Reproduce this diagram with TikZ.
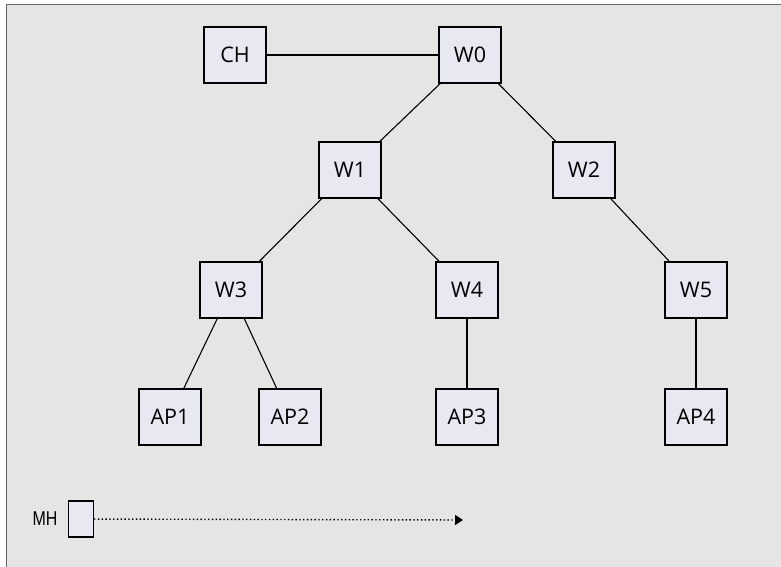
\documentclass[tikz,border=0pt]{standalone}
\usepackage{fontspec}
\setmainfont{Open Sans}
\newfontfamily\mhfont{Liberation Sans}
\usetikzlibrary{positioning,arrows.meta}
\definecolor{paneGray}{HTML}{E5E5E5}
\definecolor{frameGray}{HTML}{666666}
\definecolor{boxFill}{HTML}{E8E8F2}

\begin{document}
\begin{tikzpicture}[x=1pt,y=-1pt,on grid,line width=1.1pt,
    main node/.style={rectangle,draw,fill=boxFill,minimum width=62pt,minimum height=56pt,inner sep=0pt,font=\fontsize{21.5}{25}\selectfont}]

            \useasboundingbox (0,0) rectangle (781,567);
            \fill[paneGray] (6.5,4.7) rectangle (781,567);
            \draw[frameGray,line width=1.4pt] (6.5,567) -- (6.5,4.7) -- (781,4.7);

            \node[main node] (CH) at (235,55) {CH};
            \node[main node] (W0) [right=235pt of CH] {W0};
            \node[main node] (W1) [below left=115pt and 120pt of W0] {W1};
            \node[main node] (W2) [below right=115pt and 114pt of W0] {W2};
            \node[main node] (W3) [below left=120pt and 119pt of W1] {W3};
            \node[main node] (W4) [below right=120pt and 117pt of W1] {W4};
            \node[main node] (W5) [below right=120pt and 112pt of W2] {W5};
            \node[main node] (AP1) [below left=127pt and 61pt of W3] {AP1};
            \node[main node] (AP2) [below right=127pt and 59pt of W3] {AP2};
            \node[main node] (AP3) [below=127pt of W4] {AP3};
            \node[main node] (AP4) [below=127pt of W5] {AP4};

            \node[main node,minimum width=25pt,minimum height=36pt] (MH) at (81,519) {};
            \node[inner sep=0pt] (MHlabel) [left=36pt of MH] {\mhfont\fontsize{20}{24}\selectfont\scalebox{0.8}[1]{MH}};
            \coordinate (MHend) at (463,520);

            \draw[-] (CH) to (W0);
            \draw[-] (W0) to (W1);
            \draw[-] (W0) to (W2);
            \draw[-] (W1) to (W3);
            \draw[-] (W1) to (W4);
            \draw[-] (W2) to (W5);
            \draw[-] (W3) to (AP1);
            \draw[-] (W3) to (AP2);
            \draw[-] (W4) to (AP3);
            \draw[-] (W5) to (AP4);
            \draw[-{Triangle[length=8pt,width=10pt]},line width=1.4pt,dash pattern=on 1.4pt off 2.4pt] (MH) to (MHend);

        \end{tikzpicture}
\end{document}
